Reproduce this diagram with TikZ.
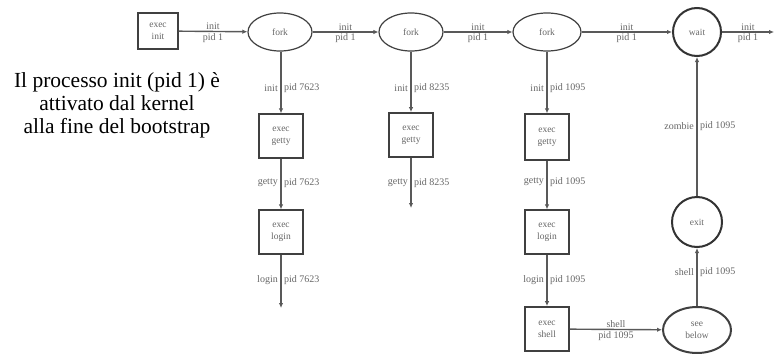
\documentclass[tikz,border=0pt]{standalone}
\usepackage{fontspec}
\setmainfont{Liberation Serif}
\usetikzlibrary{shapes.geometric,arrows.meta}
\tikzset{
  ln/.style={draw=black!65, line width=1.4pt},
  arr/.style={ln, -{Latex[length=5pt,width=4.5pt]}},
  lab/.style={font=\fontsize{10}{11}\selectfont, text=black!60, inner sep=1pt},
  box/.style={draw=black!75, line width=1.3pt, minimum width=44pt, minimum height=44pt, inner sep=0pt, align=center, font=\fontsize{9.5}{12}\selectfont, text=black!60},
  ell/.style={ellipse, draw=black!75, line width=1.2pt, minimum width=64pt, minimum height=38pt, inner sep=0pt, align=center, font=\fontsize{9.5}{12}\selectfont, text=black!60},
  circ/.style={circle, draw=black!80, line width=2pt, minimum size=48pt, inner sep=0pt, align=center, font=\fontsize{9.5}{12}\selectfont, text=black!60}
}
\begin{document}
\begin{tikzpicture}[x=1pt,y=-1pt]
\useasboundingbox (0,0) rectangle (775,353);
% caption
\node[align=center, font=\fontsize{21.5}{23}\selectfont] (cap) at (117,105) {Il processo init (pid 1) è\\attivato dal kernel\\alla fine del bootstrap};
% main row
\node[box, minimum width=40pt, minimum height=36pt] (execinit) at (158,31) {exec\\init};
\node[ell] (fork1) at (280,32) {fork};
\node[ell] (fork2) at (411,32) {fork};
\node[ell, minimum width=68pt] (fork3) at (547,32) {fork};
\node[circ] (wait) at (697,32) {wait};
\coordinate (endw) at (774,32);
\draw[arr] (execinit) -- node[lab, above] {init} node[lab, below] {pid 1} (fork1);
\draw[arr] (fork1) -- node[lab, above] {init} node[lab, below] {pid 1} (fork2);
\draw[arr] (fork2) -- node[lab, above] {init} node[lab, below] {pid 1} (fork3);
\draw[arr] (fork3) -- node[lab, above] {init} node[lab, below] {pid 1} (wait);
\draw[arr] (wait) -- node[lab, above] {init} node[lab, below] {pid 1} (endw);
% column 1
\node[box] (g1) at (281,136) {exec\\getty};
\node[box] (l1) at (281,232) {exec\\login};
\coordinate (end1) at (281,308);
\draw[arr] (fork1.south -| g1) -- (g1);
\draw[arr] (g1) -- (l1);
\draw[arr] (l1) -- (end1);
\node[lab, anchor=east] (t1a) at (279,88) {init};
\node[lab, anchor=west] (t1b) at (283,88) {pid 7623};
\node[lab, anchor=east] (t1c) at (279,183) {getty};
\node[lab, anchor=west] (t1d) at (283,183) {pid 7623};
\node[lab, anchor=east] (t1e) at (279,280) {login};
\node[lab, anchor=west] (t1f) at (283,280) {pid 7623};
% column 2
\node[box, line width=1.8pt] (g2) at (411,135) {exec\\getty};
\coordinate (end2) at (411,208);
\draw[arr] (fork2) -- (g2);
\draw[arr] (g2) -- (end2);
\node[lab, anchor=east] (t2a) at (409,88) {init};
\node[lab, anchor=west] (t2b) at (413,88) {pid 8235};
\node[lab, anchor=east] (t2c) at (409,183) {getty};
\node[lab, anchor=west] (t2d) at (413,183) {pid 8235};
% column 3
\node[box, minimum height=46pt] (g3) at (547,137) {exec\\getty};
\node[box] (l3) at (547,232) {exec\\login};
\node[box, line width=1.8pt] (s3) at (547,329) {exec\\shell};
\draw[arr] (fork3) -- (g3);
\draw[arr] (g3) -- (l3);
\draw[arr] (l3) -- (s3);
\node[lab, anchor=east] (t3a) at (545,88) {init};
\node[lab, anchor=west] (t3b) at (549,88) {pid 1095};
\node[lab, anchor=east] (t3c) at (545,182) {getty};
\node[lab, anchor=west] (t3d) at (549,182) {pid 1095};
\node[lab, anchor=east] (t3e) at (545,280) {login};
\node[lab, anchor=west] (t3f) at (549,280) {pid 1095};
% column 4
\node[ell, line width=2pt, minimum width=68pt, minimum height=46pt] (see) at (697,330) {see\\below};
\node[circ, minimum size=50pt] (exit) at (697,222) {exit};
\draw[arr] (s3) -- node[lab, above] {shell} node[lab, below] {pid 1095} (see);
\draw[arr] (see) -- (exit);
\draw[arr] (exit) -- (wait);
\node[lab, anchor=east] (t4a) at (695,126) {zombie};
\node[lab, anchor=west] (t4b) at (699,126) {pid 1095};
\node[lab, anchor=east] (t4c) at (695,272) {shell};
\node[lab, anchor=west] (t4d) at (699,272) {pid 1095};
\end{tikzpicture}
\end{document}
